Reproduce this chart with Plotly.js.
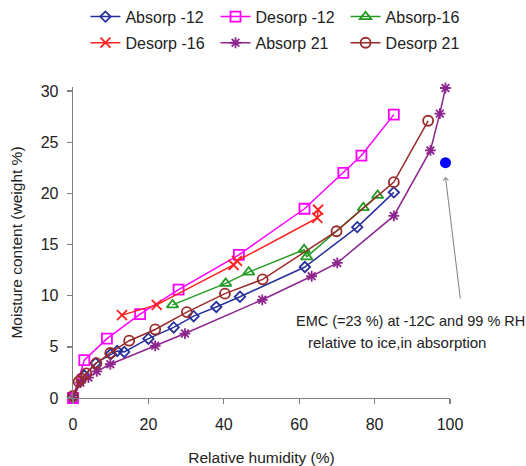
<!DOCTYPE html>
<html>
<head>
<meta charset="utf-8">
<script src="https://cdn.plot.ly/plotly-3.0.1.min.js"></script>
<style>html,body{margin:0;padding:0;background:#fff;}#chart{width:526px;height:466px;}</style>
</head>
<body>
<div id="chart"></div>
<script>
// Relative humidity (%) and moisture content (weight %)
const absorpM12_x = [0, 3, 6, 10, 11.7, 13.6, 20, 26.7, 32, 38, 44.3, 61.5, 75.4, 85.1];
const absorpM12_y = [0.1, 2.2, 3.4, 4.3, 4.6, 4.5, 5.8, 6.9, 8.0, 8.9, 9.9, 12.8, 16.7, 20.1];

const desorpM12_x = [0, 3, 9, 17.8, 28, 44, 61.4, 71.7, 76.5, 85.1];
const desorpM12_y = [0, 3.7, 5.8, 8.2, 10.6, 14.0, 18.5, 22.0, 23.7, 27.7];

const absorpM16_x = [26.4, 40.5, 46.6, 61.3, 62, 77, 80.8];
const absorpM16_y = [9.1, 11.2, 12.3, 14.5, 13.8, 18.6, 19.8];

const desorpM16_x = [13, 22.2, 42.6, 43.5, 64.8, 65];
const desorpM16_y = [8.1, 9.1, 13.0, 13.4, 17.6, 18.4];

const absorp21_x = [0, 2, 4.1, 6.3, 9.9, 21.8, 29.7, 50.2, 63.3, 70.1, 85.1, 94.8, 97.3, 98.8];
const absorp21_y = [0, 1.5, 2.0, 2.6, 3.3, 5.1, 6.3, 9.6, 11.9, 13.2, 17.8, 24.2, 27.8, 30.3];

const desorp21_x = [0, 1.5, 2.2, 3.5, 6.2, 9.9, 14.9, 21.8, 30.2, 40.3, 50.3, 69.9, 85.1, 94.2];
const desorp21_y = [0.2, 1.6, 1.9, 2.4, 3.4, 4.4, 5.6, 6.7, 8.4, 10.2, 11.6, 16.3, 21.1, 27.1];

const emcPoint_x = [98.8];
const emcPoint_y = [23.0];

const seriesNames = ['Absorp -12', 'Desorp -12', 'Absorp-16', 'Desorp -16', 'Absorp 21', 'Desorp 21'];
const xTicks = [0, 20, 40, 60, 80, 100];
const yTicks = [0, 5, 10, 15, 20, 25, 30];
const noteLine1 = 'EMC (=23 %) at -12C and 99 % RH';
const noteLine2 = 'relative to ice,in absorption';

const FONT = 'Liberation Sans, Arial, sans-serif';

function tr(x, y, name, color, symbol, size, legend) {
  return {
    x: x, y: y, name: name, type: 'scatter', mode: 'lines+markers',
    line: {color: color, width: 1.5},
    marker: {symbol: symbol, size: size, color: color, line: {color: color, width: 1.8}},
    cliponaxis: false, legend: legend
  };
}

const data = [
  tr(absorpM12_x, absorpM12_y, seriesNames[0], '#26309a', 'diamond-open', 8, 'legend'),
  tr(desorpM12_x, desorpM12_y, seriesNames[1], '#ff00ff', 'square-open', 10, 'legend2'),
  tr(absorpM16_x, absorpM16_y, seriesNames[2], '#239b23', 'triangle-up-open', 10, 'legend3'),
  tr(desorpM16_x, desorpM16_y, seriesNames[3], '#ff2020', 'x-thin-open', 10, 'legend4'),
  tr(absorp21_x, absorp21_y, seriesNames[4], '#8e248e', 'asterisk-open', 9, 'legend5'),
  tr(desorp21_x, desorp21_y, seriesNames[5], '#992a2a', 'circle-open', 10, 'legend6'),
  {x: emcPoint_x, y: emcPoint_y, type: 'scatter', mode: 'markers', showlegend: false,
   marker: {color: '#0000ff', size: 11}, cliponaxis: false}
];

const axisCommon = {
  showgrid: false, zeroline: false, showline: true, linecolor: '#808080', linewidth: 1.3,
  ticks: 'outside', ticklen: 5, tickcolor: '#808080', tickwidth: 1.3,
  tickfont: {family: FONT, size: 16, color: '#222'}
};

function leg(x, y) {
  return {orientation: 'h', x: x, xanchor: 'left', y: y, yanchor: 'middle',
    font: {family: FONT, size: 16, color: '#222'}, bgcolor: 'rgba(0,0,0,0)'};
}
const colX = [0.033, 0.378, 0.723];
const rowY = [1.226, 1.142];

const layout = {
  width: 526, height: 466,
  margin: {l: 73, r: 76, t: 87, b: 68, autoexpand: false},
  paper_bgcolor: '#fff', plot_bgcolor: '#fff',
  font: {family: FONT, color: '#222'},
  xaxis: Object.assign({}, axisCommon, {
    range: [0, 100], tickvals: xTicks, ticklabelstandoff: 6,
    title: {text: 'Relative humidity (%)', font: {family: FONT, size: 15.5, color: '#222'}, standoff: 20}
  }),
  yaxis: Object.assign({}, axisCommon, {
    range: [0, 30.4], tickvals: yTicks, ticklabelstandoff: 5,
    title: {text: 'Moisture content (weight %)', font: {family: FONT, size: 15.5, color: '#222'}, standoff: 14}
  }),
  xaxis2: {overlaying: 'x', matches: 'x', anchor: 'y', range: [0, 100], tickvals: xTicks,
    showgrid: false, zeroline: false, showline: false, showticklabels: false,
    ticks: 'inside', ticklen: 5, tickcolor: '#808080', tickwidth: 1.3},
  yaxis2: {overlaying: 'y', matches: 'y', anchor: 'x', range: [0, 30.4], tickvals: yTicks,
    showgrid: false, zeroline: false, showline: false, showticklabels: false,
    ticks: 'inside', ticklen: 5, tickcolor: '#808080', tickwidth: 1.3},
  legend: leg(colX[0], rowY[0]),
  legend2: leg(colX[1], rowY[0]),
  legend3: leg(colX[2], rowY[0]),
  legend4: leg(colX[0], rowY[1]),
  legend5: leg(colX[1], rowY[1]),
  legend6: leg(colX[2], rowY[1]),
  showlegend: true,
  annotations: [
    {x: emcPoint_x[0], y: 21.6, xref: 'x', yref: 'y', text: '', showarrow: true,
     arrowhead: 4, arrowsize: 1, arrowwidth: 1, arrowcolor: '#808080', ax: 15, ay: 123},
    {x: 89.5, y: 7.48, xref: 'x', yref: 'y', text: noteLine1, showarrow: false,
     font: {family: FONT, size: 14.5, color: '#222'}, xanchor: 'center', yanchor: 'middle'},
    {x: 85.9, y: 5.4, xref: 'x', yref: 'y', text: noteLine2, showarrow: false,
     font: {family: FONT, size: 15, color: '#222'}, xanchor: 'center', yanchor: 'middle'}
  ]
};

Plotly.newPlot('chart', data, layout, {displayModeBar: false, staticPlot: true});
</script>
</body>
</html>
